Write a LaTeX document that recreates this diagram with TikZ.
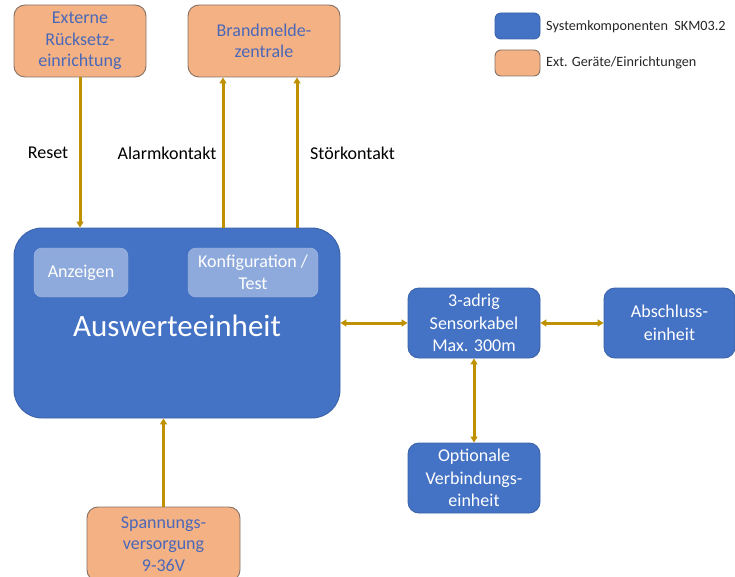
\documentclass[tikz,border=0pt]{standalone}
\usepackage{fontspec}
\setmainfont{Carlito}
\usetikzlibrary{arrows.meta}
\definecolor{orfill}{HTML}{F4B183}
\definecolor{orline}{HTML}{857065}
\definecolor{ortext}{HTML}{4A68B8}
\definecolor{blfill}{HTML}{4472C4}
\definecolor{blline}{HTML}{3A62A8}
\definecolor{ltfill}{HTML}{8EA9DB}
\definecolor{arr}{HTML}{BF9000}
\tikzset{
  extbox/.style={draw=orline, line width=0.9pt, fill=orfill, rounded corners=11pt, text=ortext, align=center, inner sep=0pt, font=\fontsize{18}{21.5}\selectfont},
  sysbox/.style={draw=blline, line width=0.9pt, fill=blfill, rounded corners=11pt, text=white, align=center, inner sep=0pt, font=\fontsize{18}{22.5}\selectfont},
  subbox/.style={fill=ltfill, draw=ltfill!80!white, rounded corners=8pt, text=white, align=center, inner sep=0pt, font=\fontsize{18}{21.5}\selectfont},
  conn/.style={draw=arr, line width=3pt, -{Triangle[length=6pt,width=7pt]}},
  bconn/.style={draw=arr, line width=3pt, {Triangle[length=6pt,width=7pt]}-{Triangle[length=6pt,width=7pt]}},
  lbl/.style={font=\fontsize{18}{21}\selectfont, text=black, inner sep=0pt},
  legtxt/.style={font=\fontsize{14.2}{17}\selectfont, text=black!85, anchor=west, inner sep=0pt}
}
\begin{document}
\begin{tikzpicture}[x=1pt,y=-1pt]
\useasboundingbox (0,0) rectangle (735,577);
% boxes
\node[extbox, minimum width=132pt, minimum height=72pt] (ext) at (80,41) {Externe\\Rücksetz-\\einrichtung};
\node[extbox, minimum width=152pt, minimum height=72pt] (bmz) at (264,41) {Brandmelde-\\zentrale};
\node[sysbox, rounded corners=28pt, minimum width=326pt, minimum height=190pt] (main) at (177,323) {};
\node[text=white, font=\fontsize{31}{34}\selectfont, inner sep=0pt] (mainlbl) at (177,326) {Auswerteeinheit};
\node[subbox, minimum width=94pt, minimum height=49pt] (anz) at (81,272.5) {Anzeigen};
\node[subbox, minimum width=130pt, minimum height=49pt] (konf) at (253,272.5) {Konfiguration /\\Test};
\node[sysbox, minimum width=132pt, minimum height=70pt] (sens) at (474,323) {3-adrig\\Sensorkabel\\Max. 300m};
\node[sysbox, minimum width=131pt, minimum height=70pt] (absch) at (669.5,323) {Abschluss-\\einheit};
\node[sysbox, minimum width=132pt, minimum height=70pt] (opt) at (474,478) {Optionale\\Verbindungs-\\einheit};
\node[extbox, minimum width=153pt, minimum height=74pt] (spann) at (163.5,544) {Spannungs-\\versorgung\\9-36V};
% legend
\node[sysbox, minimum width=45pt, minimum height=26pt, rounded corners=6pt] (leg1) at (517.5,26) {};
\node[extbox, minimum width=45pt, minimum height=26pt, rounded corners=6pt] (leg2) at (517.5,63) {};
\node[legtxt] (leg1t) at (546,27) {Systemkomponenten\ \ SKM03.2};
\node[legtxt] (leg2t) at (546,63) {Ext. Geräte/Einrichtungen};
% connectors
\draw[conn] (ext.south) -- (ext.south |- main.north);
\draw[conn] (main.north -| 223,0) -- (bmz.south -| 223,0);
\draw[conn] (main.north -| 297,0) -- (bmz.south -| 297,0);
\draw[bconn] (main.east) -- (sens.west);
\draw[bconn] (sens.east) -- (absch.west);
\draw[bconn] (sens.south) -- (opt.north);
\draw[conn] (spann.north) -- (spann.north |- main.south);
% labels
\node[lbl] (lreset) at (48,153) {Reset};
\node[lbl] (lalarm) at (167,153) {Alarmkontakt};
\node[lbl, anchor=west] (lstoer) at (310,153) {Störkontakt};
\end{tikzpicture}
\end{document}
